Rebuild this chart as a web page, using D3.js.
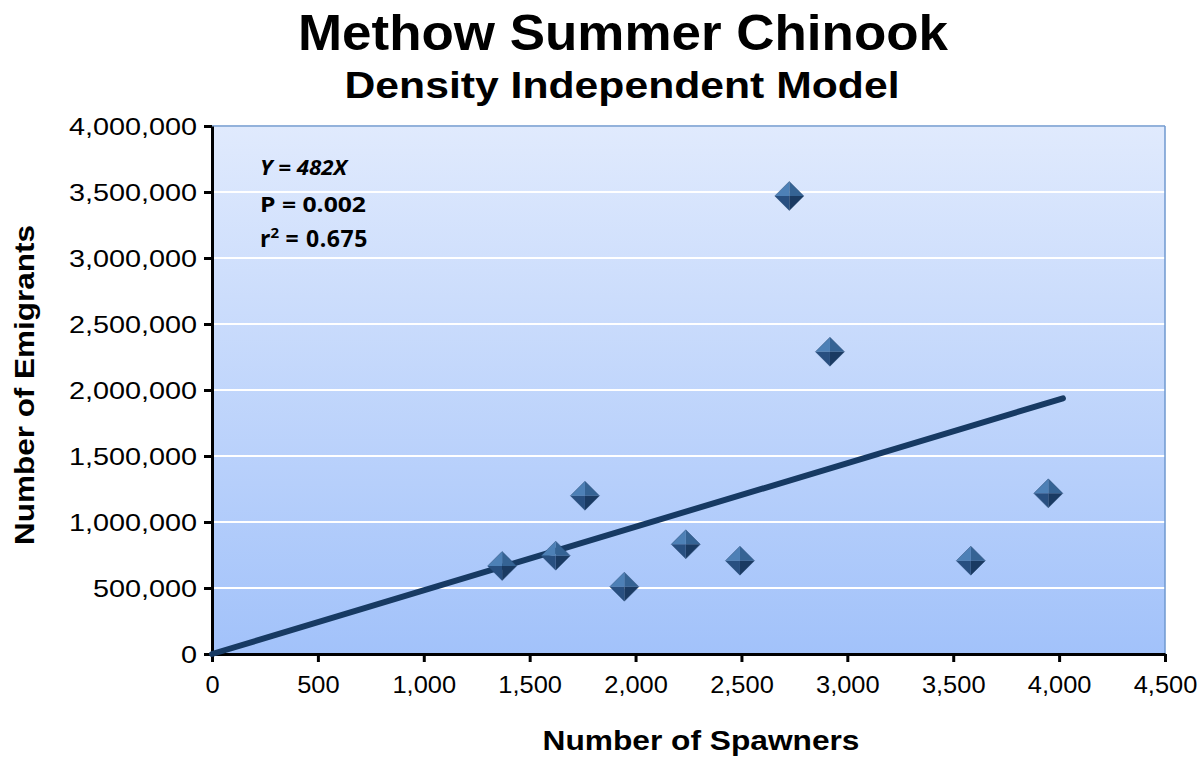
<!DOCTYPE html>
<html><head><meta charset="utf-8">
<script src="https://cdn.jsdelivr.net/npm/d3@7"></script>
<style>body{margin:0;background:#fff}svg{display:block}</style>
</head><body>
<svg id="c" width="1203" height="757"></svg>
<script>
const spawners = [1370, 1623, 1761, 1947, 2237, 2493, 2726, 2918, 3583, 3949];
const emigrants = [667000, 745000, 1199000, 510000, 831000, 707000, 3470000, 2290000, 707000, 1217000];
const slope = 482;
const lineX = [0, 4018];
const xTicks = [0, 500, 1000, 1500, 2000, 2500, 3000, 3500, 4000, 4500];
const yTicks = [0, 500000, 1000000, 1500000, 2000000, 2500000, 3000000, 3500000, 4000000];
const annot = ["Y = 482X", "P = 0.002", "r2 = 0.675"];

const svg = d3.select("#c");
const L = 212, R = 1165, T = 126, B = 654;
const x = d3.scaleLinear().domain([0, 4500]).range([L, R]);
const y = d3.scaleLinear().domain([0, 4000000]).range([B, T]);
const fmt = d3.format(",");
const AF = "Liberation Sans, Arial, sans-serif";

const defs = svg.append("defs");
const g = defs.append("linearGradient").attr("id","bg").attr("x1",0).attr("y1",0).attr("x2",0).attr("y2",1);
g.append("stop").attr("offset","0%").attr("stop-color","#e0eafd");
g.append("stop").attr("offset","100%").attr("stop-color","#a2c2fa");

svg.append("rect").attr("x",L).attr("y",T).attr("width",R-L).attr("height",B-T).attr("fill","url(#bg)");

svg.append("g").selectAll("line").data(yTicks.filter(d=>d>0)).join("line")
  .attr("x1",L).attr("x2",R).attr("y1",d=>y(d)).attr("y2",d=>y(d))
  .attr("stroke","#fff").attr("stroke-width",2);

svg.append("line").attr("x1",L).attr("x2",R).attr("y1",T).attr("y2",T).attr("stroke","#6f98cf").attr("stroke-width",1.5);
svg.append("line").attr("x1",R).attr("x2",R).attr("y1",T).attr("y2",B).attr("stroke","#6f98cf").attr("stroke-width",1.5);

const xa = svg.append("g").attr("transform",`translate(0,${B})`)
  .call(d3.axisBottom(x).tickValues(xTicks).tickFormat(fmt).tickSize(8).tickSizeOuter(0));
const ya = svg.append("g").attr("transform",`translate(${L},0)`)
  .call(d3.axisLeft(y).tickValues(yTicks).tickFormat(fmt).tickSize(8).tickSizeOuter(0));
[xa, ya].forEach(a=>{
  a.select(".domain").attr("stroke","#000").attr("stroke-width",3);
  a.selectAll(".tick line").attr("stroke","#000").attr("stroke-width",3);
  a.selectAll("text").attr("font-family",AF).attr("font-size",24).attr("fill","#000");
});
xa.selectAll("text").attr("y",8).attr("dy","1.3em").attr("transform","scale(1.06,1)");
const sy = 1.2;
ya.selectAll("text").attr("x",-15/sy).attr("dy","0.35em").attr("transform",`scale(${sy},1)`);

svg.append("path")
  .datum(lineX)
  .attr("d", d3.line().x(d=>x(d)).y(d=>y(slope*d)))
  .attr("fill","none").attr("stroke","#173a63").attr("stroke-width",6).attr("stroke-linecap","round");

const s = 14.5;
const pts = spawners.map((v,i)=>({x:v,y:emigrants[i]}));
const mk = svg.append("g").selectAll("g").data(pts).join("g")
  .attr("transform",d=>`translate(${x(d.x)},${y(d.y)})`);
const faces = [
  {p:[[0,-s],[-s,0],[0,0]], c:"#4d80b6"},
  {p:[[0,-s],[s,0],[0,0]], c:"#356394"},
  {p:[[-s,0],[0,s],[0,0]], c:"#284f80"},
  {p:[[s,0],[0,s],[0,0]], c:"#1a3a62"}
];
faces.forEach(f=>{
  mk.append("path").attr("d","M"+f.p.map(q=>q.join(",")).join("L")+"Z").attr("fill",f.c);
});
mk.append("path").attr("d",`M0,${-s}L${-s},0L0,${s}L${s},0Z`).attr("fill","none").attr("stroke","#24466f").attr("stroke-width",0.8).attr("opacity",0.6);

svg.append("text").attr("x",623).attr("y",50).attr("text-anchor","middle")
  .attr("font-family",AF).attr("font-weight","bold").attr("font-size",50)
  .attr("textLength",650).attr("lengthAdjust","spacingAndGlyphs").text("Methow Summer Chinook");
svg.append("text").attr("x",622).attr("y",98).attr("text-anchor","middle")
  .attr("font-family",AF).attr("font-weight","bold").attr("font-size",37)
  .attr("textLength",555).attr("lengthAdjust","spacingAndGlyphs").text("Density Independent Model");
svg.append("text").attr("x",701).attr("y",750).attr("text-anchor","middle")
  .attr("font-family",AF).attr("font-weight","bold").attr("font-size",27)
  .attr("textLength",317).attr("lengthAdjust","spacingAndGlyphs").text("Number of Spawners");
svg.append("text").attr("transform","translate(34,385) rotate(-90)").attr("text-anchor","middle")
  .attr("font-family",AF).attr("font-weight","bold").attr("font-size",27)
  .attr("textLength",320).attr("lengthAdjust","spacingAndGlyphs").text("Number of Emigrants");

const af = "Open Sans, Lato, sans-serif";
svg.append("text").attr("x",260).attr("y",175).attr("font-family",af).attr("font-weight","bold").attr("font-style","italic").attr("font-size",22)
  .attr("textLength",87).attr("lengthAdjust","spacingAndGlyphs").text(annot[0]);
svg.append("text").attr("x",260).attr("y",212).attr("font-family",af).attr("font-weight","bold").attr("font-size",22)
  .attr("textLength",106).attr("lengthAdjust","spacingAndGlyphs").text(annot[1]);
const t3 = svg.append("text").attr("x",260).attr("y",247).attr("font-family",af).attr("font-weight","bold").attr("font-size",23);
t3.append("tspan").text("r");
t3.append("tspan").attr("font-size",15).attr("dy",-9).text("2");
t3.append("tspan").attr("dy",9).attr("letter-spacing",0.6).text(" = 0.675");
</script>
</body></html>
